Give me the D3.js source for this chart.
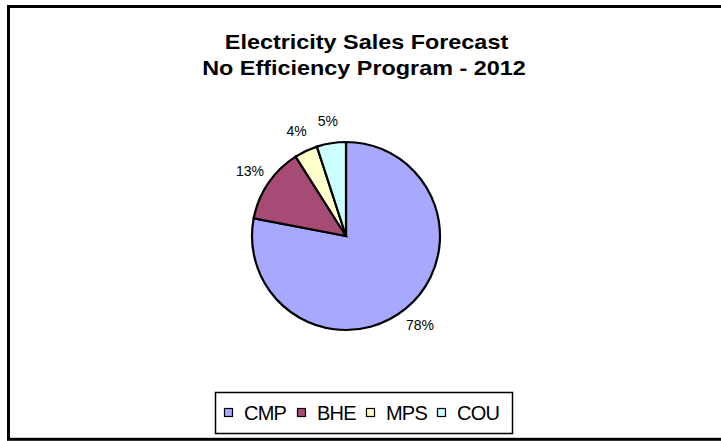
<!DOCTYPE html>
<html>
<head>
<meta charset="utf-8">
<script src="https://cdn.jsdelivr.net/npm/d3@7"></script>
<style>
  html, body { margin: 0; padding: 0; background: #fff; }
  svg { display: block; font-family: "Liberation Sans", Arial, Helvetica, sans-serif; }
</style>
</head>
<body>
<svg id="chart" width="721" height="441"></svg>
<script>
// Utility sales share, 2012, no efficiency programme
const categories = ["CMP", "BHE", "MPS", "COU"];
const shares = [78, 13, 4, 5];
const colors = ["#a8a8ff", "#a54b76", "#ffffcc", "#ccffff"];
const titleLines = ["Electricity Sales Forecast", "No Efficiency Program - 2012"];

const svg = d3.select("#chart");

// outer frame
svg.append("rect")
  .attr("x", 8.5).attr("y", 6.5)
  .attr("width", 730).attr("height", 432.8)
  .attr("fill", "#fff").attr("stroke", "#000").attr("stroke-width", 3);

// title: bold lettering, set slightly wide
const titlePos = [{ x: 366.5, y: 48.5 }, { x: 364, y: 74.5 }];
svg.append("g").selectAll("text")
  .data(titleLines).join("text")
  .attr("transform", (d, i) => `translate(${titlePos[i].x},${titlePos[i].y}) scale(1.17,1)`)
  .attr("text-anchor", "middle")
  .attr("font-size", 20).attr("font-weight", "bold")
  .attr("fill", "#000")
  .text(d => d);

// pie
const cx = 346, cy = 236, r = 94;
const data = categories.map((c, i) => ({ name: c, value: shares[i], color: colors[i] }));
const pie = d3.pie().sort(null).value(d => d.value);
const arcs = pie(data);
const arc = d3.arc().innerRadius(0).outerRadius(r);
const labelArc = d3.arc().innerRadius(116).outerRadius(116);

const g = svg.append("g").attr("transform", `translate(${cx},${cy})`);
g.selectAll("path").data(arcs).join("path")
  .attr("d", arc)
  .attr("fill", d => d.data.color)
  .attr("stroke", "#000").attr("stroke-width", 2.2)
  .attr("stroke-linejoin", "miter");

g.selectAll("text.pct").data(arcs).join("text")
  .attr("class", "pct")
  .attr("transform", d => `translate(${labelArc.centroid(d)})`)
  .attr("text-anchor", "middle")
  .attr("dy", "0.35em")
  .attr("font-size", 14)
  .attr("fill", "#000")
  .text(d => d.data.value + "%");

// legend
const lg = svg.append("g");
lg.append("rect")
  .attr("x", 215.5).attr("y", 392.5).attr("width", 297).attr("height", 41)
  .attr("fill", "#fff").attr("stroke", "#000").attr("stroke-width", 1.5);

const itemX = [224, 297, 366, 437];
const items = lg.selectAll("g.item").data(data).join("g")
  .attr("class", "item")
  .attr("transform", (d, i) => `translate(${itemX[i]},0)`);
items.append("rect")
  .attr("x", 0.5).attr("y", 408.5).attr("width", 8).attr("height", 8)
  .attr("fill", d => d.color).attr("stroke", "#000").attr("stroke-width", 1.2);
items.append("text")
  .attr("x", 20).attr("y", 420)
  .attr("font-size", 20).attr("letter-spacing", -0.8)
  .attr("fill", "#000")
  .text(d => d.name);
</script>
</body>
</html>
